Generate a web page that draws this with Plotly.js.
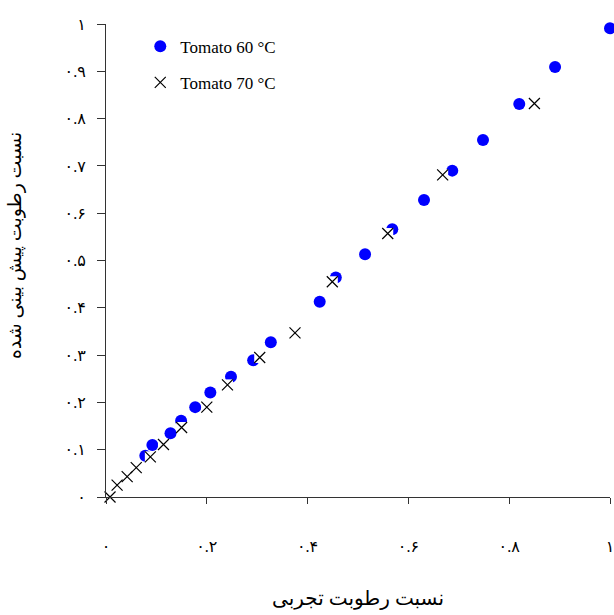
<!DOCTYPE html>
<html>
<head>
<meta charset="utf-8">
<script src="https://cdn.plot.ly/plotly-3.0.1.min.js"></script>
<style>html,body{margin:0;padding:0;background:#fff;}#chart{width:614px;height:615px;}</style>
</head>
<body>
<div id="chart"></div>
<script>
// Tomato 60 °C: experimental vs predicted moisture ratio
const x60 = [0.078, 0.092, 0.128, 0.149, 0.177, 0.207, 0.248, 0.292, 0.327, 0.424, 0.456, 0.514, 0.568, 0.631, 0.687, 0.748, 0.820, 0.891, 1.000];
const y60 = [0.087, 0.110, 0.135, 0.161, 0.190, 0.221, 0.254, 0.289, 0.327, 0.413, 0.464, 0.513, 0.566, 0.628, 0.690, 0.755, 0.831, 0.909, 0.991];
// Tomato 70 °C
const x70 = [0.008, 0.022, 0.042, 0.060, 0.088, 0.114, 0.150, 0.200, 0.241, 0.305, 0.375, 0.449, 0.559, 0.668, 0.850];
const y70 = [0.000, 0.025, 0.043, 0.062, 0.085, 0.111, 0.147, 0.190, 0.237, 0.295, 0.347, 0.455, 0.557, 0.681, 0.832];

const xTickVals = [0, 0.2, 0.4, 0.6, 0.8, 1];
const xTickText = ['۰', '۰.۲', '۰.۴', '۰.۶', '۰.۸', '۱'];
const yTickVals = [0, 0.1, 0.2, 0.3, 0.4, 0.5, 0.6, 0.7, 0.8, 0.9, 1];
const yTickText = ['۰', '۰.۱', '۰.۲', '۰.۳', '۰.۴', '۰.۵', '۰.۶', '۰.۷', '۰.۸', '۰.۹', '۱'];

const seriesNames = ['Tomato 60 °C', 'Tomato 70 °C'];
const xTitle = 'نسبت رطوبت تجربی';
const yTitle = 'نسبت رطوبت پیش بینی شده';

const FONT = 'Liberation Serif, "Times New Roman", DejaVu Sans, serif';

const traces = [
  {
    x: x60, y: y60, type: 'scatter', mode: 'markers', name: seriesNames[0],
    legendgroup: 'a',
    marker: {symbol: 'circle', size: 12, color: '#0000ff', line: {width: 0}},
    cliponaxis: false
  },
  {
    x: x70, y: y70, type: 'scatter', mode: 'markers', showlegend: false,
    hoverinfo: 'skip', legendgroup: 'b',
    marker: {symbol: 'square', size: 11, color: '#ffffff', line: {width: 0}},
    cliponaxis: false
  },
  {
    x: x70, y: y70, type: 'scatter', mode: 'markers', name: seriesNames[1],
    legendgroup: 'b',
    marker: {symbol: 'x-thin', size: 11, color: '#000000', line: {width: 1.2, color: '#000000'}},
    cliponaxis: false
  }
];

const layout = {
  width: 614, height: 615,
  margin: {l: 106, r: 4, t: 24, b: 118},
  paper_bgcolor: '#ffffff', plot_bgcolor: '#ffffff',
  font: {family: FONT, color: '#000000', size: 16},
  showlegend: true,
  legend: {
    x: 0.068, y: 0.99, xanchor: 'left', yanchor: 'top',
    bgcolor: 'rgba(0,0,0,0)', borderwidth: 0,
    font: {family: FONT, size: 17, color: '#000000'},
    traceorder: 'grouped', tracegroupgap: 11
  },
  xaxis: {
    range: [0, 1], fixedrange: true,
    showgrid: false, zeroline: false,
    showline: true, linecolor: '#333333', linewidth: 1,
    ticks: 'outside', ticklen: 6, tickcolor: '#333333', tickwidth: 1,
    tickvals: xTickVals, ticktext: xTickText,
    tickfont: {family: FONT, size: 16, color: '#000000'},
    ticklabelstandoff: 29, ticklabeloverflow: 'allow',
    title: {text: xTitle, font: {family: FONT, size: 20, color: '#000000'}, standoff: 36}
  },
  yaxis: {
    range: [0, 1], fixedrange: true,
    showgrid: false, zeroline: false,
    showline: true, linecolor: '#333333', linewidth: 1,
    ticks: 'outside', ticklen: 8, tickcolor: '#333333', tickwidth: 1,
    tickvals: yTickVals, ticktext: yTickText,
    tickfont: {family: FONT, size: 16, color: '#000000'},
    ticklabelstandoff: 8, ticklabeloverflow: 'allow'
  },
  annotations: [{
    text: yTitle, textangle: -90, showarrow: false,
    xref: 'paper', yref: 'paper', x: -0.18, y: 0.531,
    xanchor: 'center', yanchor: 'middle',
    font: {family: FONT, size: 19, color: '#000000'}
  }]
};

Plotly.newPlot('chart', traces, layout, {displayModeBar: false, staticPlot: true});
</script>
</body>
</html>
